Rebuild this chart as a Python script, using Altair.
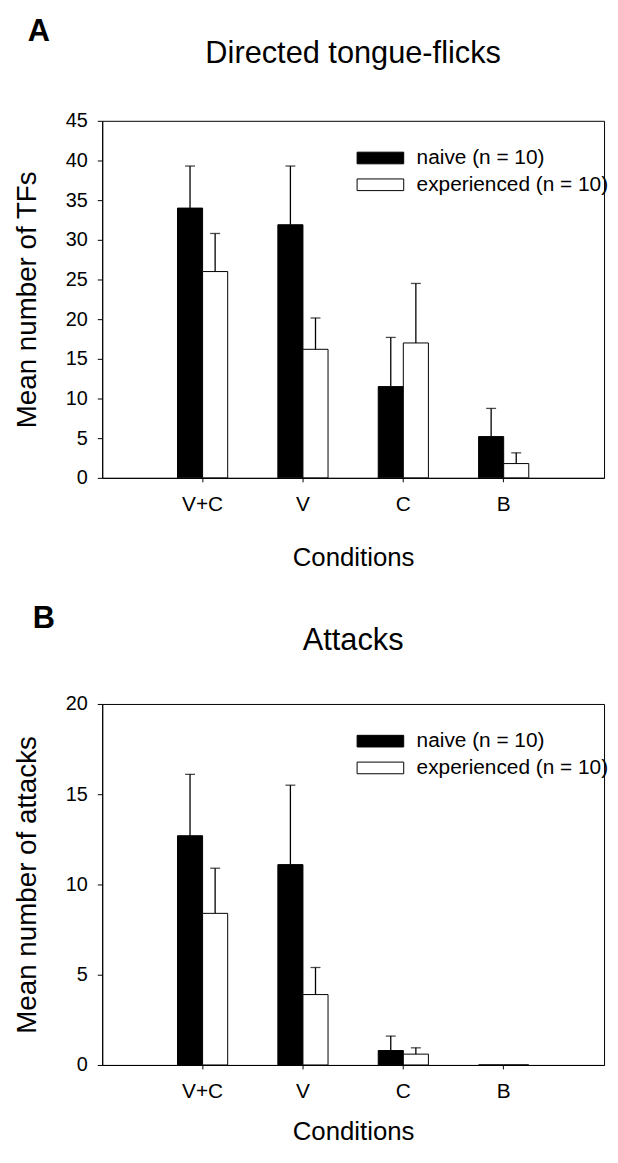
import altair as alt
import pandas as pd

FONT = "Liberation Sans"

conditions = ["V+C", "V", "C", "B"]
groups = ["naive (n = 10)", "experienced (n = 10)"]

# Panel A: directed tongue-flicks
tf_naive = [34.0, 31.9, 11.5, 5.2]
tf_naive_se = [5.3, 7.4, 6.2, 3.55]
tf_exp = [26.0, 16.2, 17.0, 1.8]
tf_exp_se = [4.8, 3.95, 7.5, 1.35]

# Panel B: attacks
at_naive = [12.7, 11.1, 0.8, 0.0]
at_naive_se = [3.4, 4.4, 0.8, 0.0]
at_exp = [8.4, 3.9, 0.6, 0.0]
at_exp_se = [2.5, 1.5, 0.35, 0.0]

W = 506


def make_df(naive, naive_se, exp, exp_se):
    rows = []
    for i, c in enumerate(conditions):
        rows.append({"condition": c, "group": groups[0], "mean": naive[i], "se": naive_se[i]})
        rows.append({"condition": c, "group": groups[1], "mean": exp[i], "se": exp_se[i]})
    return pd.DataFrame(rows)


def panel(df, letter, title, ytitle, ymax, height, letter_x, letter_y, title_y, xtitle_pad):
    yscale = alt.Scale(domain=[0, ymax], nice=False)
    yaxis = alt.Axis(
        title=ytitle,
        values=list(range(0, ymax + 1, 5)),
        labelFontSize=20,
        titleFontSize=28,
        titleFontWeight="normal",
        tickSize=5,
        labelPadding=10,
        titlePadding=24,
        grid=False,
        labelOverlap=False,
    )
    base = alt.Chart(df).encode(
        x=alt.X(
            "condition:N",
            sort=conditions,
            scale=alt.Scale(paddingInner=0, paddingOuter=0.5),
            axis=alt.Axis(
                title="Conditions",
                labelAngle=0,
                labelFontSize=21,
                titleFontSize=26,
                titleFontWeight="normal",
                tickSize=4,
                labelPadding=12,
                titlePadding=xtitle_pad,
                grid=False,
            ),
        ),
        xOffset=alt.XOffset(
            "group:N", sort=groups, scale=alt.Scale(paddingInner=0, paddingOuter=1)
        ),
    )
    bars = base.mark_bar(stroke="black", strokeWidth=1).encode(
        y=alt.Y("mean:Q", scale=yscale, axis=yaxis, title=ytitle),
        color=alt.Color(
            "group:N",
            sort=groups,
            scale=alt.Scale(domain=groups, range=["black", "white"]),
            legend=alt.Legend(
                title=None,
                orient="none",
                legendX=268,
                legendY=25,
                symbolType="M-2,-0.5H2V0.5H-2Z",
                symbolSize=552,
                symbolStrokeColor="black",
                symbolStrokeWidth=1,
                labelFontSize=21,
                labelFont=FONT,
                labelColor="black",
                labelOffset=24,
                labelLimit=400,
                rowPadding=4,
            ),
        ),
    )
    err = base.transform_filter("datum.se > 0").transform_calculate(
        hi="datum.mean + datum.se"
    )
    rules = err.mark_rule(color="black", strokeWidth=1.3).encode(
        y=alt.Y("mean:Q", scale=yscale, axis=yaxis, title=ytitle), y2="hi:Q"
    )
    caps = err.mark_tick(color="black", thickness=1.3, size=10, orient="horizontal").encode(
        y=alt.Y("hi:Q", scale=yscale, axis=yaxis, title=ytitle)
    )
    lab = alt.Chart(pd.DataFrame({"t": [letter]})).mark_text(
        font=FONT, fontSize=31, fontWeight="bold", align="left", baseline="alphabetic",
        color="black",
    ).encode(text="t:N", x=alt.value(letter_x), y=alt.value(letter_y))
    ttl = alt.Chart(pd.DataFrame({"t": [title]})).mark_text(
        font=FONT, fontSize=31, align="center", baseline="alphabetic", color="black",
    ).encode(text="t:N", x=alt.value(W / 2), y=alt.value(title_y))
    return alt.layer(bars, rules, caps, lab, ttl).properties(width=W, height=height)


dfA = make_df(tf_naive, tf_naive_se, tf_exp, tf_exp_se)
dfB = make_df(at_naive, at_naive_se, at_exp, at_exp_se)

pA = panel(dfA, "A", "Directed tongue-flicks", "Mean number of TFs", 45, 360, -75, -80, -58.6, 30)
pB = panel(dfB, "B", "Attacks", "Mean number of attacks", 20, 364, -70, -77, -54, 17)

chart = (
    alt.vconcat(pA, pB, spacing=31)
    .resolve_scale(color="independent")
    .resolve_legend(color="independent")
    .properties(padding={"top": 3, "left": 5, "right": 0, "bottom": 1})
    .configure_view(stroke="black", strokeWidth=1)
    .configure_axis(
        grid=False,
        domainColor="black",
        tickColor="black",
        labelColor="black",
        titleColor="black",
        labelFont=FONT,
        titleFont=FONT,
        titleFontWeight="normal",
    )
)

chart.save("out.html", embed_options={"renderer": "svg", "actions": False})
